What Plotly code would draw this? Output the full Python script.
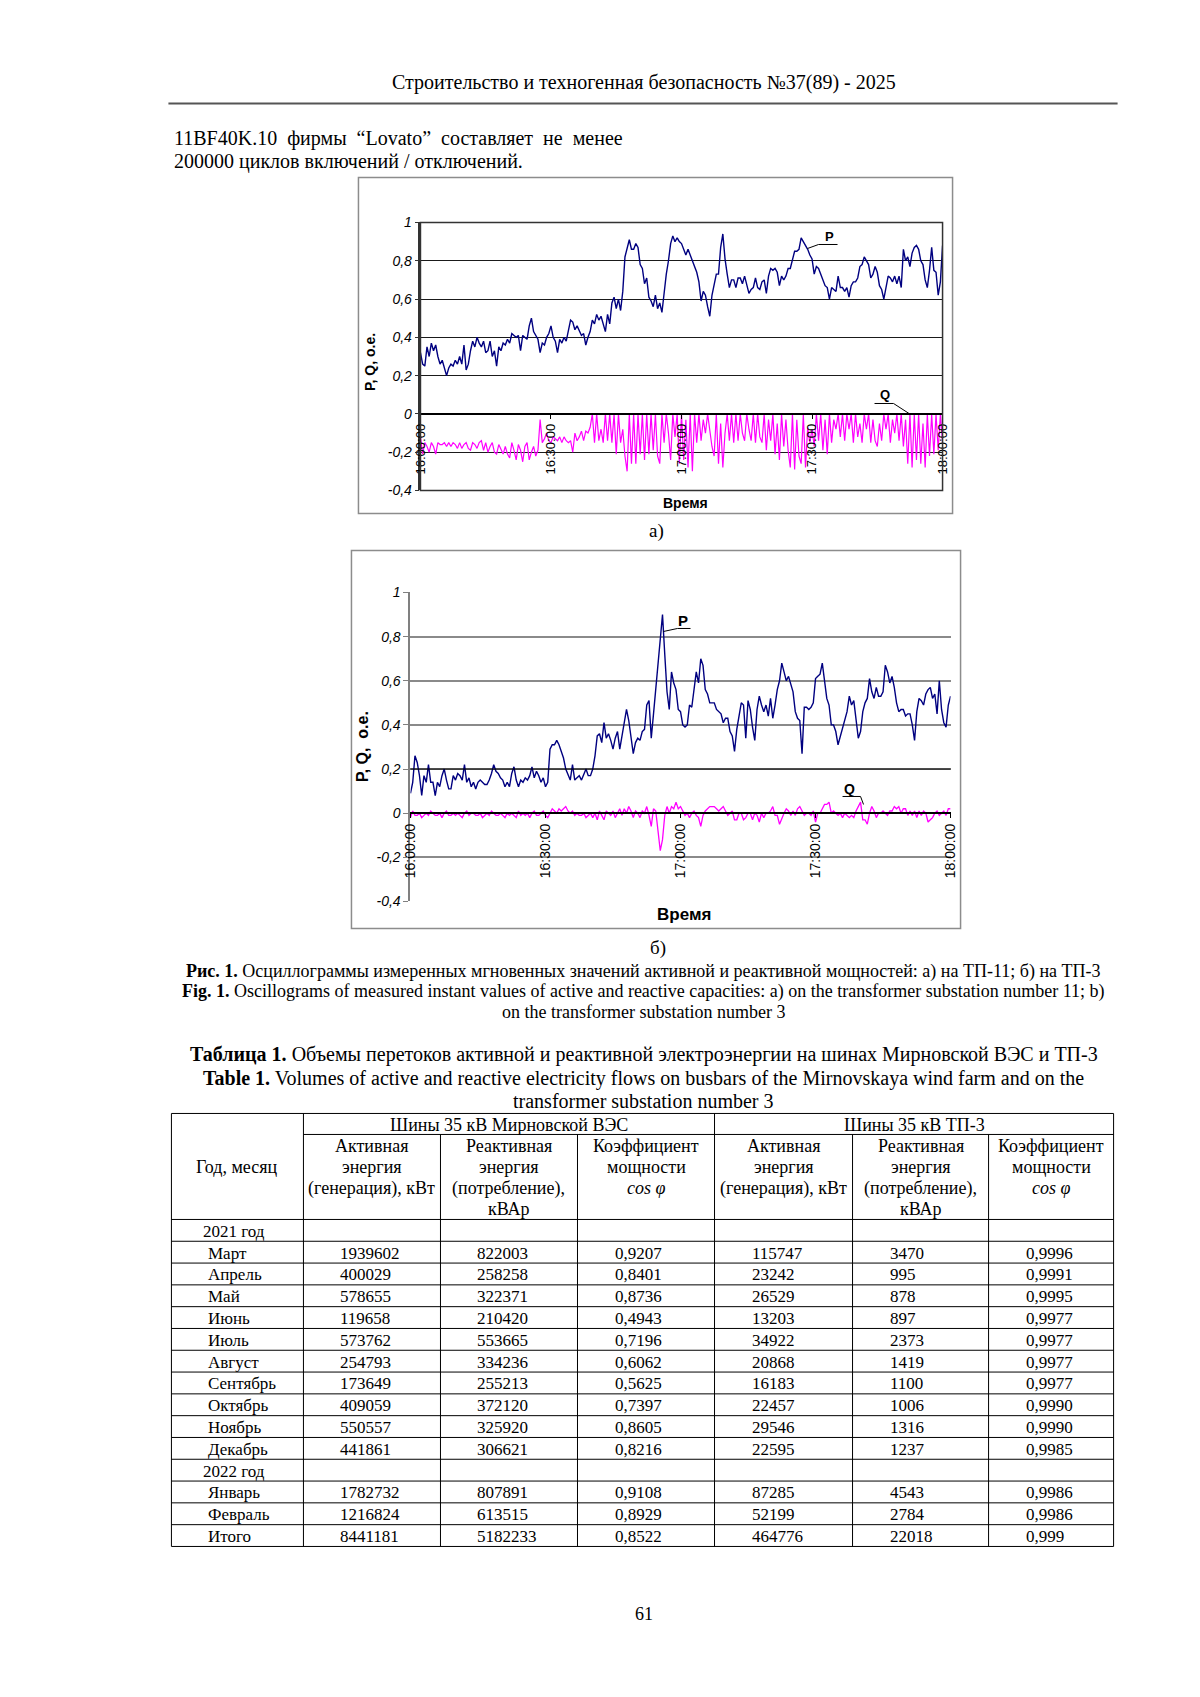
import plotly.graph_objects as go
import pandas as pd

W, H = 1200, 1697
# the photographed page shows the figure slightly reduced and offset;
# page-pixel positions are mapped back to figure pixels with this calibration
SX, OX = 0.9865, 15.6
SY, OY = 0.9906, 15.5

# ---------------- chart data (o.e., one sample every 30 s from 16:00:00) ----------------
P_a = [0.32, 0.26, 0.25, 0.35, 0.30, 0.37, 0.33, 0.36, 0.30, 0.26,
       0.28, 0.24, 0.20, 0.24, 0.26, 0.25, 0.28, 0.26, 0.30, 0.26,
       0.36, 0.23, 0.26, 0.33, 0.38, 0.35, 0.40, 0.37, 0.35, 0.38,
       0.32, 0.33, 0.38, 0.30, 0.33, 0.25, 0.35, 0.33, 0.37, 0.36,
       0.39, 0.37, 0.42, 0.41, 0.40, 0.41, 0.33, 0.41, 0.40, 0.39,
       0.46, 0.50, 0.43, 0.41, 0.39, 0.32, 0.37, 0.36, 0.40, 0.42,
       0.46, 0.40, 0.38, 0.32, 0.39, 0.37, 0.40, 0.38, 0.44, 0.49,
       0.48, 0.44, 0.46, 0.43, 0.41, 0.42, 0.36, 0.40, 0.43, 0.49,
       0.47, 0.52, 0.49, 0.51, 0.47, 0.43, 0.52, 0.47, 0.58, 0.61,
       0.55, 0.60, 0.54, 0.64, 0.82, 0.86, 0.91, 0.86, 0.86, 0.89,
       0.87, 0.78, 0.76, 0.68, 0.71, 0.61, 0.59, 0.56, 0.62, 0.55,
       0.58, 0.53, 0.65, 0.73, 0.80, 0.89, 0.93, 0.90, 0.92, 0.90,
       0.89, 0.86, 0.83, 0.86, 0.83, 0.81, 0.78, 0.74, 0.69, 0.59,
       0.64, 0.62, 0.56, 0.51, 0.62, 0.68, 0.73, 0.73, 0.87, 0.94,
       0.81, 0.73, 0.66, 0.70, 0.70, 0.66, 0.71, 0.71, 0.68, 0.72,
       0.67, 0.63, 0.65, 0.66, 0.71, 0.66, 0.65, 0.69, 0.70, 0.63,
       0.72, 0.76, 0.75, 0.76, 0.74, 0.67, 0.72, 0.70, 0.72, 0.76,
       0.76, 0.80, 0.85, 0.85, 0.86, 0.92, 0.90, 0.88, 0.86, 0.83,
       0.81, 0.73, 0.77, 0.76, 0.73, 0.70, 0.67, 0.66, 0.60, 0.66,
       0.65, 0.64, 0.72, 0.66, 0.66, 0.64, 0.66, 0.61, 0.67, 0.69,
       0.69, 0.71, 0.77, 0.78, 0.82, 0.80, 0.78, 0.71, 0.73, 0.77,
       0.74, 0.67, 0.65, 0.60, 0.67, 0.72, 0.71, 0.69, 0.72, 0.68,
       0.72, 0.66, 0.86, 0.80, 0.82, 0.77, 0.84, 0.87, 0.88, 0.86,
       0.80, 0.78, 0.70, 0.66, 0.75, 0.87, 0.75, 0.74, 0.62, 0.69, 0.88]

Q_a = [-0.12, -0.21, -0.15, -0.17, -0.20, -0.15, -0.17, -0.21, -0.15, -0.16,
       -0.16, -0.15, -0.17, -0.15, -0.17, -0.15, -0.16, -0.18, -0.15, -0.18,
       -0.16, -0.15, -0.18, -0.19, -0.15, -0.16, -0.18, -0.15, -0.14, -0.19,
       -0.15, -0.20, -0.17, -0.15, -0.20, -0.21, -0.16, -0.19, -0.21, -0.17,
       -0.21, -0.23, -0.15, -0.19, -0.24, -0.16, -0.19, -0.25, -0.17, -0.15,
       -0.24, -0.20, -0.17, -0.22, -0.19, -0.03, -0.15, -0.13, -0.10, -0.14,
       -0.15, -0.12, -0.13, -0.14, -0.12, -0.15, -0.12, -0.14, -0.15, -0.14,
       -0.20, -0.10, -0.14, -0.12, -0.09, -0.14, -0.09, -0.10, -0.07, 0.00,
       -0.15, 0.00, -0.14, -0.08, -0.15, 0.00, -0.14, 0.00, -0.15, 0.00,
       -0.21, 0.00, -0.15, -0.08, -0.22, -0.30, 0.00, -0.26, 0.00, -0.26,
       0.00, -0.21, 0.00, -0.24, 0.00, -0.21, 0.00, -0.19, 0.00, -0.22,
       -0.26, 0.00, -0.15, 0.00, -0.10, -0.24, 0.00, -0.12, 0.00, -0.26,
       0.00, -0.24, -0.03, -0.28, 0.00, -0.30, 0.00, -0.15, 0.00, -0.14,
       -0.03, -0.10, 0.00, -0.08, -0.17, -0.22, 0.00, -0.26, -0.05, -0.28,
       -0.10, 0.00, -0.14, 0.00, -0.15, 0.00, -0.14, 0.00, -0.10, -0.14,
       0.00, -0.08, -0.14, 0.00, -0.15, 0.00, -0.12, -0.15, 0.00, -0.19,
       -0.03, -0.14, 0.00, -0.21, -0.05, -0.24, 0.00, -0.17, -0.03, -0.19,
       -0.28, 0.00, -0.29, -0.03, -0.22, -0.26, 0.00, -0.28, -0.07, -0.15,
       -0.08, -0.17, 0.00, -0.14, 0.00, -0.19, -0.03, -0.21, 0.00, -0.15,
       -0.03, -0.08, 0.00, -0.12, 0.00, -0.14, 0.00, -0.08, 0.00, -0.15,
       0.00, -0.12, -0.05, -0.15, 0.00, -0.08, 0.00, -0.15, -0.03, -0.14,
       -0.17, -0.05, -0.14, 0.00, -0.08, 0.00, -0.15, -0.03, -0.10, 0.00,
       -0.14, 0.00, -0.17, -0.03, -0.26, 0.00, -0.28, 0.00, -0.24, 0.00,
       -0.26, -0.05, -0.28, 0.00, -0.22, 0.00, -0.21, 0.00, -0.19, 0.00, -0.15]

P_b = [0.09, 0.14, 0.26, 0.23, 0.17, 0.08, 0.17, 0.14, 0.22, 0.14,
       0.14, 0.08, 0.14, 0.12, 0.17, 0.20, 0.15, 0.11, 0.11, 0.17,
       0.15, 0.18, 0.17, 0.15, 0.22, 0.14, 0.16, 0.12, 0.14, 0.11,
       0.14, 0.15, 0.14, 0.13, 0.13, 0.15, 0.18, 0.22, 0.19, 0.18,
       0.16, 0.15, 0.12, 0.14, 0.12, 0.18, 0.21, 0.15, 0.12, 0.15,
       0.14, 0.16, 0.15, 0.17, 0.21, 0.16, 0.19, 0.17, 0.14, 0.16,
       0.12, 0.14, 0.29, 0.31, 0.31, 0.33, 0.31, 0.28, 0.25, 0.20,
       0.17, 0.15, 0.22, 0.15, 0.16, 0.17, 0.15, 0.18, 0.20, 0.17,
       0.17, 0.20, 0.26, 0.35, 0.36, 0.32, 0.41, 0.34, 0.36, 0.33,
       0.29, 0.34, 0.37, 0.29, 0.35, 0.42, 0.47, 0.42, 0.34, 0.27,
       0.32, 0.34, 0.33, 0.37, 0.38, 0.49, 0.51, 0.34, 0.45, 0.56,
       0.68, 0.79, 0.90, 0.72, 0.55, 0.47, 0.64, 0.59, 0.56, 0.47,
       0.46, 0.40, 0.39, 0.40, 0.49, 0.48, 0.56, 0.64, 0.59, 0.70,
       0.67, 0.56, 0.54, 0.50, 0.50, 0.50, 0.47, 0.46, 0.45, 0.41,
       0.43, 0.43, 0.37, 0.35, 0.28, 0.38, 0.45, 0.50, 0.49, 0.34,
       0.51, 0.47, 0.39, 0.33, 0.47, 0.53, 0.49, 0.46, 0.49, 0.44,
       0.52, 0.43, 0.49, 0.56, 0.60, 0.68, 0.64, 0.60, 0.62, 0.59,
       0.55, 0.46, 0.43, 0.42, 0.27, 0.48, 0.48, 0.47, 0.48, 0.50,
       0.61, 0.62, 0.63, 0.68, 0.59, 0.52, 0.49, 0.40, 0.40, 0.37,
       0.31, 0.35, 0.39, 0.42, 0.46, 0.53, 0.49, 0.51, 0.43, 0.34,
       0.37, 0.46, 0.50, 0.52, 0.61, 0.55, 0.52, 0.57, 0.53, 0.53,
       0.55, 0.67, 0.64, 0.59, 0.62, 0.57, 0.50, 0.46, 0.47, 0.47,
       0.44, 0.45, 0.45, 0.40, 0.33, 0.46, 0.52, 0.51, 0.49, 0.54,
       0.56, 0.57, 0.52, 0.54, 0.45, 0.60, 0.47, 0.41, 0.39, 0.49, 0.53]

Q_b = [-0.02, 0.01, -0.01, -0.01, 0.00, -0.02, -0.01, 0.00, -0.01, 0.01,
       0.00, -0.01, -0.01, 0.00, -0.02, 0.00, 0.01, -0.01, -0.01, 0.00,
       -0.01, 0.00, -0.01, -0.02, 0.00, 0.01, -0.01, 0.00, 0.00, -0.01,
       -0.01, 0.00, -0.02, -0.01, 0.00, -0.01, 0.01, 0.00, -0.01, -0.01,
       0.00, -0.01, -0.02, 0.00, -0.01, 0.00, -0.01, -0.02, 0.01, -0.01,
       0.00, -0.01, 0.00, -0.02, 0.00, 0.01, -0.01, -0.01, 0.00, 0.01,
       -0.01, -0.02, 0.00, 0.02, 0.01, 0.00, 0.02, 0.01, 0.02, 0.03,
       0.01, 0.00, 0.01, -0.01, 0.00, -0.01, -0.01, 0.00, -0.02, -0.01,
       0.00, -0.02, 0.00, -0.03, 0.01, -0.01, -0.03, 0.01, 0.00, -0.01,
       0.01, -0.02, 0.00, 0.02, -0.01, 0.02, 0.00, 0.03, 0.01, -0.02,
       0.01, 0.00, -0.02, 0.01, 0.00, 0.03, -0.01, -0.06, 0.02, 0.01,
       -0.08, -0.17, -0.12, -0.01, 0.03, 0.00, 0.03, 0.02, 0.05, 0.02,
       0.03, 0.01, -0.01, 0.00, -0.02, 0.00, 0.01, -0.01, -0.02, -0.06,
       -0.01, 0.01, 0.02, 0.03, 0.03, 0.03, 0.02, 0.01, 0.02, 0.03,
       0.01, -0.01, 0.00, 0.01, -0.03, -0.03, 0.00, 0.00, -0.03, -0.02,
       0.00, 0.00, -0.03, 0.00, -0.01, -0.04, 0.00, -0.02, 0.00, 0.00,
       0.01, 0.03, -0.01, -0.01, -0.05, -0.02, 0.00, 0.02, 0.01, -0.01,
       0.01, -0.01, 0.02, 0.03, 0.01, -0.01, 0.00, 0.00, -0.01, 0.01,
       -0.04, 0.00, 0.00, 0.02, 0.04, 0.04, 0.05, 0.00, 0.01, 0.00,
       -0.01, 0.00, -0.02, 0.00, -0.01, -0.02, -0.01, -0.02, 0.01, 0.03,
       0.05, -0.03, -0.03, -0.05, 0.00, 0.03, 0.01, -0.02, 0.00, 0.00,
       0.01, 0.00, -0.01, 0.01, 0.01, 0.03, 0.02, 0.03, 0.00, 0.02,
       0.02, -0.01, 0.01, -0.01, 0.01, -0.02, 0.01, -0.01, 0.01, 0.00,
       -0.04, -0.03, -0.02, 0.00, 0.01, -0.01, 0.00, 0.01, -0.01, 0.02, 0.02]

START = "2021-01-01 16:00:00"
END = "2021-01-01 18:00:00"
SAMPLE = "30s"
x_tickvals = ["2021-01-01 16:00:00", "2021-01-01 16:30:00", "2021-01-01 17:00:00",
              "2021-01-01 17:30:00", "2021-01-01 18:00:00"]
x_ticktext = ["16:00:00", "16:30:00", "17:00:00", "17:30:00", "18:00:00"]
y_tickvals = [-0.4, -0.2, 0, 0.2, 0.4, 0.6, 0.8, 1]
y_ticktext = ["-0,4", "-0,2", "0", "0,2", "0,4", "0,6", "0,8", "1"]

# ---------------- table data ----------------
row_labels = ["2021 год", "Март", "Апрель", "Май", "Июнь", "Июль", "Август", "Сентябрь",
              "Октябрь", "Ноябрь", "Декабрь", "2022 год", "Январь", "Февраль", "Итого"]
wes_active = ["", "1939602", "400029", "578655", "119658", "573762", "254793", "173649",
              "409059", "550557", "441861", "", "1782732", "1216824", "8441181"]
wes_reactive = ["", "822003", "258258", "322371", "210420", "553665", "334236", "255213",
                "372120", "325920", "306621", "", "807891", "613515", "5182233"]
wes_cos = ["", "0,9207", "0,8401", "0,8736", "0,4943", "0,7196", "0,6062", "0,5625",
           "0,7397", "0,8605", "0,8216", "", "0,9108", "0,8929", "0,8522"]
tp_active = ["", "115747", "23242", "26529", "13203", "34922", "20868", "16183",
             "22457", "29546", "22595", "", "87285", "52199", "464776"]
tp_reactive = ["", "3470", "995", "878", "897", "2373", "1419", "1100",
               "1006", "1316", "1237", "", "4543", "2784", "22018"]
tp_cos = ["", "0,9996", "0,9991", "0,9995", "0,9977", "0,9977", "0,9977", "0,9977",
          "0,9990", "0,9990", "0,9985", "", "0,9986", "0,9986", "0,999"]
group_headers = ["Шины 35 кВ Мирновской ВЭС", "Шины 35 кВ ТП-3"]
col_headers = [["Активная", "энергия", "(генерация), кВт"],
               ["Реактивная", "энергия", "(потребление),", "кВАр"],
               ["Коэффициент", "мощности", "<i>cos φ</i>"]]

SERIF = "Liberation Serif"
SANS = "Liberation Sans"


def px(x):
    return (x - OX) / SX / W


def py(y):
    return 1 - (y - OY) / SY / H


annotations = []
shapes = []


def text(s, x, y, size, xanchor="center", yanchor="middle", family=SERIF,
         weight="normal", style="normal", angle=0, color="black"):
    annotations.append(dict(text=s, x=px(x), y=py(y), xref="paper", yref="paper",
                            xanchor=xanchor, yanchor=yanchor, showarrow=False,
                            textangle=angle,
                            font=dict(family=family, size=size, color=color,
                                      weight=weight, style=style)))


def line(x0, y0, x1, y1, color="black", width=1):
    shapes.append(dict(type="line", xref="paper", yref="paper", x0=px(x0), y0=py(y0),
                       x1=px(x1), y1=py(y1), line=dict(color=color, width=width)))


def rect(x0, y0, x1, y1, color, width):
    shapes.append(dict(type="rect", xref="paper", yref="paper", x0=px(x0), y0=py(y0),
                       x1=px(x1), y1=py(y1), line=dict(color=color, width=width),
                       layer="above"))


def polyline(points, color="black", width=1):
    path = "M " + " L ".join(f"{px(a)},{py(b)}" for a, b in points)
    shapes.append(dict(type="path", xref="paper", yref="paper", path=path,
                       line=dict(color=color, width=width)))


t_a = pd.date_range(START, periods=len(P_a), freq=SAMPLE)
t_b = pd.date_range(START, periods=len(P_b), freq=SAMPLE)

fig = go.Figure()
fig.add_trace(go.Scatter(x=t_a, y=Q_a, mode="lines", line=dict(color="#ff00ff", width=1.2),
                         xaxis="x", yaxis="y", showlegend=False))
fig.add_trace(go.Scatter(x=t_a, y=P_a, mode="lines", line=dict(color="#000080", width=1.4),
                         xaxis="x", yaxis="y", showlegend=False))
fig.add_trace(go.Scatter(x=t_b, y=Q_b, mode="lines", line=dict(color="#ff00ff", width=1.3),
                         xaxis="x2", yaxis="y2", showlegend=False))
fig.add_trace(go.Scatter(x=t_b, y=P_b, mode="lines", line=dict(color="#000080", width=1.4),
                         xaxis="x2", yaxis="y2", showlegend=False))

# plot areas (page pixels)
A_L, A_R, A_T, A_B = 420, 942, 222, 490
B_L, B_R, B_T, B_B = 410, 950, 592, 901
Y_RANGE = [-0.4, 1.0]
dom_a = [py(A_B), py(A_T)]
dom_b = [py(B_B), py(B_T)]
zero_frac = (0 - Y_RANGE[0]) / (Y_RANGE[1] - Y_RANGE[0])
pos_a = dom_a[0] + (dom_a[1] - dom_a[0]) * zero_frac
pos_b = dom_b[0] + (dom_b[1] - dom_b[0]) * zero_frac

common_x = dict(type="date", range=[START, END], tickmode="array", tickvals=x_tickvals,
                ticktext=x_ticktext, tickangle=-90, showgrid=False, zeroline=False,
                anchor="free", ticks="outside", ticklen=4, tickcolor="black",
                showline=True, linecolor="black")
fig.update_layout(
    xaxis=dict(common_x, domain=[px(A_L), px(A_R)], position=pos_a, linewidth=1.5,
               tickfont=dict(family=SANS, size=13, color="black")),
    yaxis=dict(domain=dom_a, range=Y_RANGE, tickmode="array", tickvals=y_tickvals,
               ticktext=y_ticktext, showgrid=True, gridcolor="#1a1a1a", gridwidth=1,
               zeroline=False, showline=True, linecolor="#333333", linewidth=1.5,
               ticks="outside", ticklen=4, tickcolor="#333333", anchor="x",
               tickfont=dict(family=SANS, size=14, color="black", style="italic")),
    xaxis2=dict(common_x, domain=[px(B_L), px(B_R)], position=pos_b, linewidth=2,
                tickfont=dict(family=SANS, size=14, color="black")),
    yaxis2=dict(domain=dom_b, range=Y_RANGE, tickmode="array", tickvals=y_tickvals,
                ticktext=y_ticktext, showgrid=True, gridcolor="#8a8a8a", gridwidth=2,
                zeroline=False, showline=True, linecolor="#808080", linewidth=2,
                ticks="outside", ticklen=5, tickcolor="#808080", anchor="x2",
                tickfont=dict(family=SANS, size=14, color="black", style="italic")),
)

# frames
rect(358, 177, 952, 513, "#8c8c8c", 1.5)
rect(A_L, A_T, A_R, A_B, "#333333", 1.5)
rect(351, 550, 960, 928, "#8c8c8c", 1.5)
shapes.append(dict(type="line", xref="x2 domain", yref="y2", x0=0, x1=1, y0=0.2, y1=0.2,
                   line=dict(color="black", width=1)))

# chart labels
text("P, Q, o.e.", 370, 361, 14, family=SANS, weight="bold", angle=-90)
text("Время", 685, 503, 14, family=SANS, weight="bold")
text("P", 829, 236, 13, family=SANS, weight="bold")
polyline([(807, 248), (818, 244), (837, 244)], width=1)
text("Q", 884, 394, 13, family=SANS, weight="bold")
polyline([(874, 403), (893, 403), (910, 414)], width=1)

text("P, Q,  o.e.", 362, 746, 16, family=SANS, weight="bold", angle=-90)
text("Время", 683, 914, 17, family=SANS, weight="bold")
text("P", 682, 620, 15, family=SANS, weight="bold")
polyline([(663, 631), (677, 628), (690, 628)], width=1)
text("Q", 849, 789, 14, family=SANS, weight="bold")
polyline([(842, 796), (860, 796), (863, 804)], width=1)

# page text
SP = " \u00a0"
text("Строительство и техногенная безопасность №37(89) - 2025", 643, 82, 20)
line(168, 103, 1117, 103, color="#555555", width=2)
text(SP.join(["11BF40K.10", "фирмы", "“Lovato”", "составляет", "не", "менее"]),
     172, 138, 20, xanchor="left")
text("200000 циклов включений / отключений.", 172, 161, 20, xanchor="left")
text("а)", 656, 531, 19)
text("б)", 657, 948, 19)
text("<b>Рис. 1.</b> Осциллограммы измеренных мгновенных значений активной и реактивной мощностей: а) на ТП-11; б) на ТП-3",
     643, 971, 18)
text("<b>Fig. 1.</b> Oscillograms of measured instant values of active and reactive capacities: a) on the transformer substation number 11; b)",
     643, 991, 18)
text("on the transformer substation number 3", 643, 1012, 18)
text("<b>Таблица 1.</b> Объемы перетоков активной и реактивной электроэнергии на шинах Мирновской ВЭС и ТП-3",
     643, 1054, 20)
text("<b>Table 1.</b> Volumes of active and reactive electricity flows on busbars of the Mirnovskaya wind farm and on the",
     643, 1078, 20)
text("transformer substation number 3", 643, 1101, 20)
text("61", 643, 1614, 18)

# ---------------- table ----------------
cols = [171, 303, 440, 577, 714, 852, 988, 1113]
T_TOP, T_GRP, T_HDR = 1113, 1134, 1219
ROW_H = 21.8
n_rows = len(row_labels)
T_BOT = T_HDR + n_rows * ROW_H
TS = 17
HS = 18

for yv in [T_TOP, T_BOT]:
    line(cols[0], yv, cols[-1], yv)
line(cols[1], T_GRP, cols[-1], T_GRP)
for k in range(n_rows):
    yv = T_HDR + k * ROW_H
    line(cols[0], yv, cols[-1], yv)
for k, xv in enumerate(cols):
    top = T_GRP if k in (2, 3, 5, 6) else T_TOP
    line(xv, top, xv, T_BOT)

text(group_headers[0], (cols[1] + cols[4]) / 2, (T_TOP + T_GRP) / 2 + 1, HS)
text(group_headers[1], (cols[4] + cols[7]) / 2, (T_TOP + T_GRP) / 2 + 1, HS)
text("Год, месяц", (cols[0] + cols[1]) / 2, 1167, HS)
hdr_lines_y = [1146, 1167, 1188, 1209]
for g in range(2):
    for c in range(3):
        xc = (cols[1 + 3 * g + c] + cols[2 + 3 * g + c]) / 2
        for j, s in enumerate(col_headers[c]):
            text(s, xc, hdr_lines_y[j], HS)

value_cols = [wes_active, wes_reactive, wes_cos, tp_active, tp_reactive, tp_cos]
for k in range(n_rows):
    yc = T_HDR + (k + 0.5) * ROW_H + 1
    lab = row_labels[k]
    indent = 30 if "год" in lab else 35
    text(lab, cols[0] + indent, yc, TS, xanchor="left")
    for c, vals in enumerate(value_cols):
        if vals[k]:
            text(vals[k], cols[1 + c] + 35, yc, TS, xanchor="left")

fig.update_layout(width=W, height=H, margin=dict(l=0, r=0, t=0, b=0),
                  paper_bgcolor="white", plot_bgcolor="white",
                  annotations=annotations, shapes=shapes, showlegend=False)

fig.write_html("out.html")
